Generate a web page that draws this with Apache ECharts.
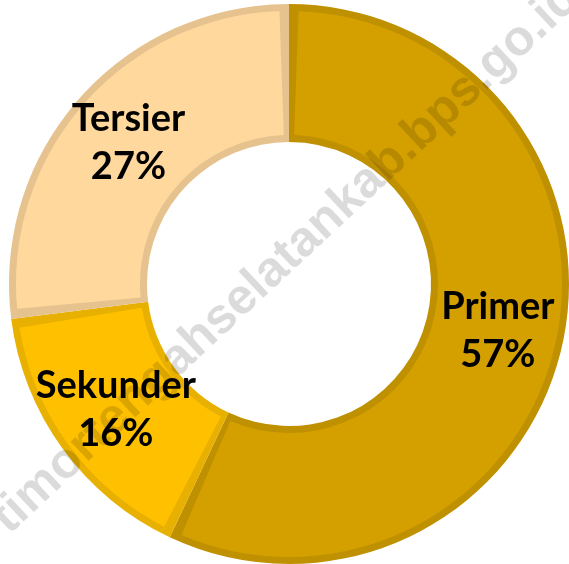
<!DOCTYPE html>
<html>
<head>
<meta charset="utf-8">
<script src="https://cdn.jsdelivr.net/npm/echarts@6/dist/echarts.min.js"></script>
<style>
html,body{margin:0;padding:0;background:#fff;}
#chart{width:569px;height:564px;}
</style>
</head>
<body>
<div id="chart"></div>
<script>
const categories = ['Primer', 'Sekunder', 'Tersier'];
const values = [57, 16, 27];
const fillColors = ['#D4A000', '#FFC000', '#FFD89E'];
const edgeColors = ['#BF9000', '#E8B000', '#E6C28E'];
const watermark = 'timortengahselatankab.bps.go.id';

const chart = echarts.init(document.getElementById('chart'));
const center = [289, 284];

const edgeData = categories.map((c, i) => ({
  name: c, value: values[i], itemStyle: { color: edgeColors[i] }
}));
const fillData = categories.map((c, i) => ({
  name: c, value: values[i], itemStyle: { color: fillColors[i] }
}));

chart.setOption({
  animation: false,
  backgroundColor: '#ffffff',
  series: [
    {
      type: 'pie',
      center: center,
      radius: [142, 280],
      startAngle: 90,
      clockwise: true,
      silent: true,
      label: { show: false },
      labelLine: { show: false },
      itemStyle: { borderWidth: 0 },
      data: edgeData
    },
    {
      type: 'pie',
      center: center,
      radius: [149, 273],
      startAngle: 90,
      clockwise: true,
      padAngle: 4,
      silent: true,
      itemStyle: { borderWidth: 0 },
      labelLine: { show: false },
      label: {
        show: true,
        position: 'inside',
        formatter: p => p.name + '\n' + p.value + '%',
        fontFamily: 'Lato',
        fontWeight: 'bold',
        fontSize: 38,
        lineHeight: 48,
        color: '#000000',
        align: 'center'
      },
      data: fillData
    }
  ],
  graphic: [
    {
      type: 'text',
      x: 286,
      y: 258,
      rotation: 43 * Math.PI / 180,
      z: 100,
      silent: true,
      style: {
        text: watermark,
        font: 'bold 50px "Liberation Sans"',
        fill: 'rgba(0,0,0,0.14)',
        align: 'center',
        verticalAlign: 'middle'
      }
    }
  ]
});
</script>
</body>
</html>
